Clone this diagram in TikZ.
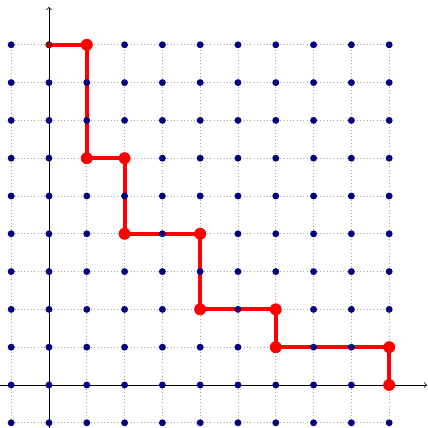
\documentclass[tikz,border=0pt]{standalone}
\begin{document}
\begin{tikzpicture}[x=1cm,y=1cm,
  gridline/.style={gray!70,dotted,line width=0.5pt},
  axis/.style={->,line width=0.6pt},
  dotb/.style={circle,fill={rgb,255:red,0;green,0;blue,128},inner sep=0pt,minimum size=5.2pt},
  bigr/.style={circle,fill=red,inner sep=0pt,minimum size=9pt},
  pathline/.style={red,line width=3pt}]
\useasboundingbox (-1.296,-1.138) rectangle (10.026,10.185);
\foreach \i in {-1,...,9}{
  \draw[gridline] (-1,\i) -- (9,\i);
  \draw[gridline] (\i,-1) -- (\i,9);
}
\draw[axis] (-1.3,0) -- (10,0);
\draw[axis] (0,-1.14) -- (0,10);
\coordinate (p0) at (0,9);
\coordinate (c1) at (1,9);
\coordinate (c2) at (1,6);
\coordinate (c3) at (2,6);
\coordinate (c4) at (2,4);
\coordinate (c5) at (4,4);
\coordinate (c6) at (4,2);
\coordinate (c7) at (6,2);
\coordinate (c8) at (6,1);
\coordinate (c9) at (9,1);
\coordinate (c10) at (9,0);
\draw[pathline] (p0) -- (c1) -- (c2) -- (c3) -- (c4) -- (c5) -- (c6) -- (c7) -- (c8) -- (c9) -- (c10);
\foreach \x in {-1,...,9}{
  \foreach \y in {-1,...,9}{
    \node[dotb] at (\x,\y) {};
  }
}
\foreach \c in {c1,c2,c3,c4,c5,c6,c7,c8,c9,c10}{
  \node[bigr] at (\c) {};
}
\node[circle,fill=red!60!black,inner sep=0pt,minimum size=5.2pt] (s0) at (p0) {};
\end{tikzpicture}
\end{document}
